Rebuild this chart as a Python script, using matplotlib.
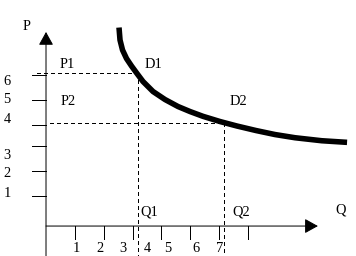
import matplotlib
matplotlib.use("Agg")
import matplotlib.pyplot as plt

# demand curve (Q, P)
curve_q = [2.529, 2.564, 2.651, 2.789, 2.963, 3.153, 3.361, 3.708, 4.123, 4.574,
           4.990, 5.440, 6.029, 6.618, 7.277, 7.935, 8.628, 9.553, 10.430]
curve_p = [7.886, 7.390, 6.993, 6.655, 6.357, 6.059, 5.741, 5.344, 5.026, 4.748,
           4.549, 4.358, 4.152, 3.973, 3.794, 3.635, 3.508, 3.389, 3.325]

# the two points on the curve
q1, p1 = 3.19, 6.08
q2, p2 = 6.18, 4.08

# axis ticks and their (hand placed) labels
x_ticks = [1, 2, 3, 4, 5, 6, 7]
x_labels = ["1", "2", "3", "4", "5", "6", "7"]
x_label_pos = [1.04, 1.87, 2.67, 3.50, 4.23, 5.20, 6.03]
y_ticks = [6.0, 5.0, 4.0, 3.18, 2.19, 1.19]
y_labels = ["6", "5", "4", "3", "2", "1"]
y_label_pos = [5.60, 4.89, 4.09, 2.66, 1.95, 1.15]

# names next to the points
names = ["P1", "D1", "P2", "D2", "Q1", "Q2", "Q", "P"]
name_q = [0.745, 3.71, 0.76, 6.65, 3.59, 6.77, 10.19, -0.69]
name_p = [6.28, 6.28, 4.81, 4.81, 0.40, 0.40, 0.48, 7.79]

fig = plt.figure(figsize=(3.56, 2.56), dpi=100)
ax = fig.add_axes([0, 0, 1, 1])
ax.set_xlim(-1.594, 10.74)
ax.set_ylim(-1.19, 8.98)
ax.axis("off")

lw = 0.72
font = dict(family="Liberation Serif", fontsize=10.4, ha="center", va="baseline")

# axes with arrows
arrow = dict(arrowstyle="-|>,head_length=0.45,head_width=0.25", mutation_scale=18,
             lw=lw, color="black", shrinkA=0, shrinkB=0)
ax.annotate("", xy=(0, 7.71), xytext=(0, -1.19), arrowprops=arrow)
ax.annotate("", xy=(9.42, 0), xytext=(0, 0), arrowprops=arrow)

for t in x_ticks:
    ax.plot([t, t], [0, -0.52], color="black", lw=lw, antialiased=False)
for t in y_ticks:
    ax.plot([-0.495, 0], [t, t], color="black", lw=lw, antialiased=False)

for lab, pos in zip(x_labels, x_label_pos):
    ax.text(pos, -1.03, lab, **font)
for lab, pos in zip(y_labels, y_label_pos):
    ax.text(-1.35, pos, lab, **font)

# dashed guides
dash = dict(color="black", lw=lw, linestyle=(0, (4, 3)), antialiased=False)
ax.plot([-0.31, q1], [p1, p1], **dash)
ax.plot([q1, q1], [p1, -1.19], **dash)
ax.plot([0.14, q2], [p2, p2], **dash)
ax.plot([q2, q2], [p2, -1.15], **dash)

# demand curve
ax.plot(curve_q, curve_p, color="black", lw=4.0, solid_capstyle="butt", solid_joinstyle="round")

for n, q, p in zip(names, name_q, name_p):
    ax.text(q, p, n, **font)

fig.savefig("out.png", dpi=100)
